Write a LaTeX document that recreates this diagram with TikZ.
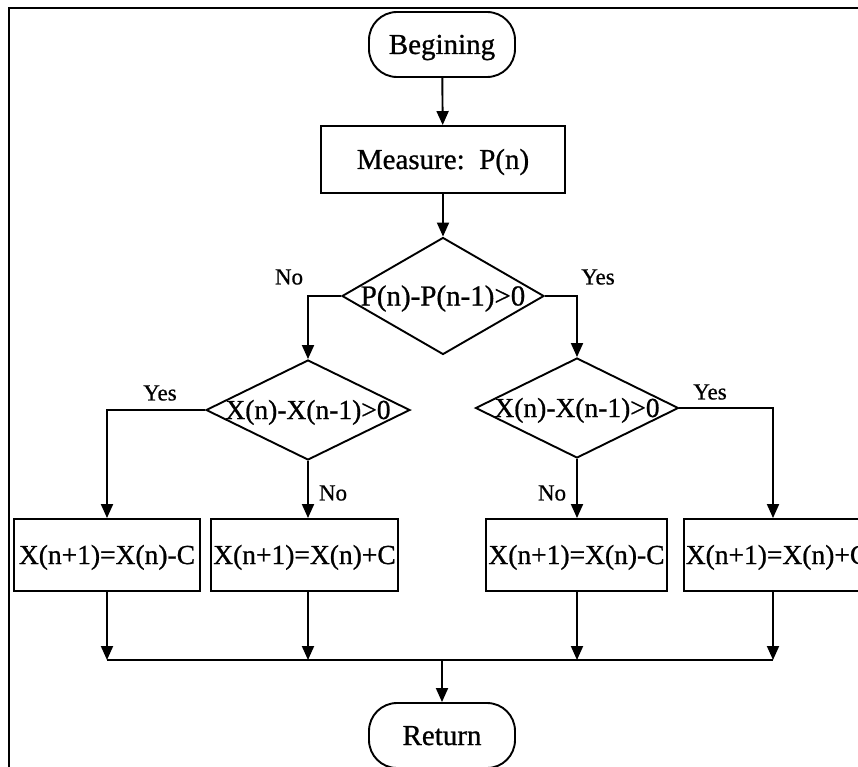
\documentclass[tikz,border=0pt]{standalone}
\usepackage{fontspec}
\setmainfont{Liberation Serif}[FakeBold=0.8]
\usetikzlibrary{shapes.geometric,arrows.meta}
\begin{document}
\begin{tikzpicture}[x=1pt,y=-1pt,
  line width=1.9pt,
  arr/.style={-{Triangle[length=14pt,width=12pt]}},
  term/.style={draw,rounded corners=28pt,minimum width=146pt,minimum height=65pt,inner sep=0pt,text height=19pt,text depth=0pt,font=\fontsize{29}{32}\selectfont},
  proc/.style={draw,minimum height=72pt,inner sep=0pt,text height=18pt,text depth=0pt,font=\fontsize{27.5}{30}\selectfont},
  dia/.style={draw,diamond,inner sep=0pt},
  diatext/.style={font=\fontsize{27.5}{30}\selectfont,inner sep=0pt,text height=18pt,text depth=0pt},
  lab/.style={font=\fontsize{23}{26}\selectfont,inner sep=0pt}]
\useasboundingbox (0,0) rectangle (858,767);
\clip (0,0) rectangle (858,767);
% frame
\draw[line width=2.5pt] (9,770) -- (9,8) -- (860,8);
% nodes
\node[term] (beg) at (442,44.5) {Begining};
\node[proc,minimum width=244pt,minimum height=67pt,text height=19pt,font=\fontsize{29}{32}\selectfont] (meas) at (443,159.5) {Measure:\hspace{0.5em}P(n)};
\node[dia,minimum width=202pt,minimum height=117pt] (d1) at (443,296) {};
\node[diatext,text height=19pt,font=\fontsize{29}{32}\selectfont] at (d1) {P(n)-P(n-1)>0};
\node[dia,minimum width=204pt,minimum height=100pt] (d2) at (308,410) {};
\node[diatext] at (d2) {X(n)-X(n-1)>0};
\node[dia,minimum width=203pt,minimum height=100pt] (d3) at (577,408) {};
\node[diatext] at (d3) {X(n)-X(n-1)>0};
\node[proc,minimum width=186pt] (b1) at (107,555) {X(n+1)=X(n)-C};
\node[proc,minimum width=187pt] (b2) at (304.5,555) {X(n+1)=X(n)+C};
\node[proc,minimum width=181pt] (b3) at (576.5,555) {X(n+1)=X(n)-C};
\node[proc,minimum width=186pt] (b4) at (777,555) {X(n+1)=X(n)+C};
\node[term] (ret) at (442,735.5) {Return};
\coordinate (j) at (442,660);
\coordinate (l1) at (308,296);
\coordinate (r1) at (577,296);
\coordinate (l2) at (107,410);
\coordinate (r3) at (773,408);
% labels
\node[lab] (no1) at (289,277) {No};
\node[lab] (yes1) at (598,277) {Yes};
\node[lab] (yes2) at (160,393) {Yes};
\node[lab] (no2) at (333,493) {No};
\node[lab] (no3) at (552,493) {No};
\node[lab] (yes3) at (710,392) {Yes};
% connectors
\draw[arr] (beg) -- (meas);
\draw[arr] (meas) -- (d1);
\draw[arr] (d1.west) -- (l1) -- (d2.north);
\draw[arr] (d1.east) -- (r1) -- (d3.north);
\draw[arr] (d2.west) -- (l2) -- (b1.north);
\draw[arr] (d2.south) -- (d2.south |- b2.north);
\draw[arr] (d3.south) -- (d3.south |- b3.north);
\draw[arr] (d3.east) -- (r3) -- (r3 |- b4.north);
\draw[arr] (b1.south) -- (b1.south |- j);
\draw[arr] (d2.south |- b2.south) -- (d2.south |- j);
\draw[arr] (d3.south |- b3.south) -- (d3.south |- j);
\draw[arr] (r3 |- b4.south) -- (r3 |- j);
\draw (b1.south |- j) -- (r3 |- j);
\draw[arr] (j) -- (ret);
\end{tikzpicture}
\end{document}
